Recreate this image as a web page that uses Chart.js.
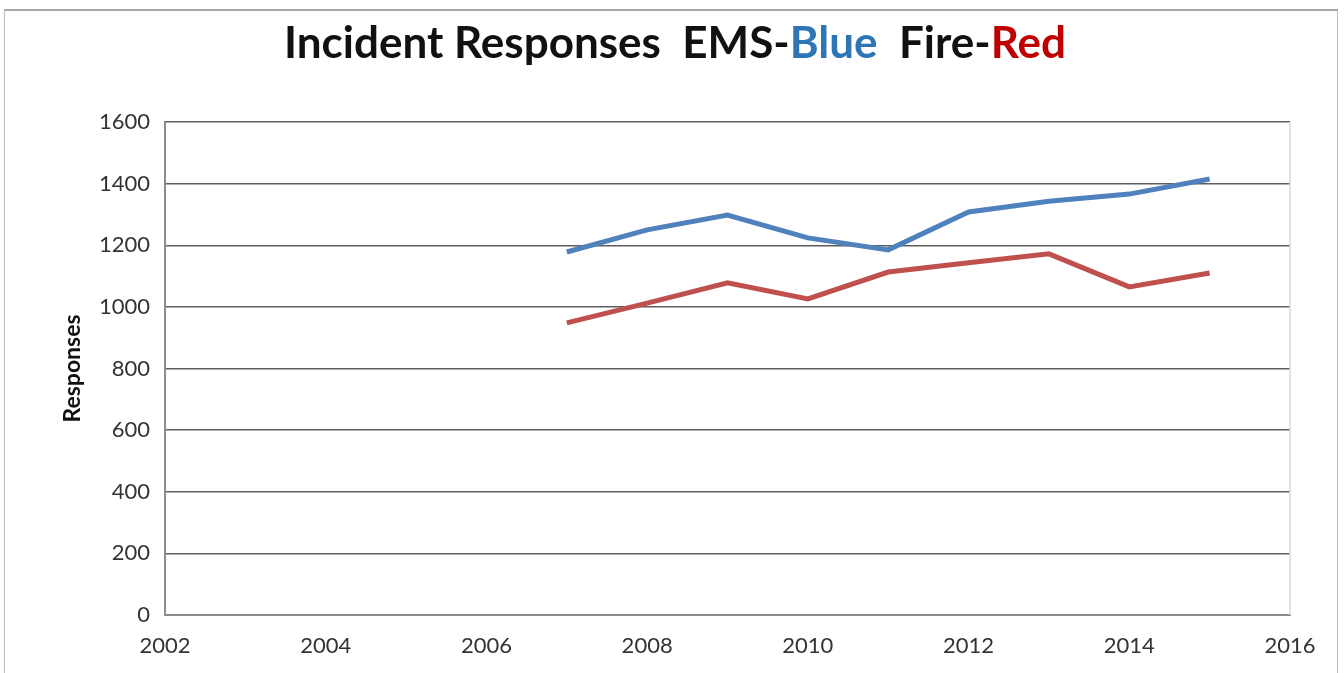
<!DOCTYPE html>
<html lang="en">
<head>
    <meta charset="UTF-8">
    <title>Incident Responses</title>
    <script src="https://cdn.jsdelivr.net/npm/chart.js"></script>
    <style>
        body {
            margin: 0;
            background: #fff;
            font-family: Lato, "Open Sans", sans-serif;
        }
        .frame {
            position: absolute;
            left: 4px;
            top: 9px;
            width: 1332px;
            height: 670px;
            border: 1px solid #bdbdbd;
            border-top: 2px solid #a6a6a6;
        }
        .title {
            position: absolute;
            left: 0;
            top: 15px;
            width: 1350px;
            text-align: center;
            font-size: 44px;
            line-height: normal;
            font-weight: bold;
            color: #111;
            white-space: pre;
        }
        .blue { color: #2e75b6; }
        .red { color: #c00000; }
        canvas {
            position: absolute;
            left: 0;
            top: 0;
        }
    </style>
</head>
<body>
    <div class="frame"></div>
    <canvas id="chart" width="1344" height="673"></canvas>
    <div class="title">Incident Responses  EMS-<span class="blue">Blue</span>  Fire-<span class="red">Red</span></div>

    <script>
        // values
        const years = [2007, 2008, 2009, 2010, 2011, 2012, 2013, 2014, 2015];
        const ems = [1178, 1250, 1298, 1224, 1185, 1308, 1343, 1366, 1415];
        const fire = [948, 1012, 1078, 1026, 1113, 1143, 1172, 1065, 1110];

        const toPoints = vals => years.map((y, i) => ({ x: y, y: vals[i] }));

        // light border on the right side of the plot area
        const rightEdge = {
            id: 'rightEdge',
            afterDraw(chart) {
                const { ctx, chartArea } = chart;
                ctx.save();
                ctx.strokeStyle = '#d9d9d9';
                ctx.lineWidth = 1.5;
                ctx.beginPath();
                ctx.moveTo(chartArea.right, chartArea.top);
                ctx.lineTo(chartArea.right, chartArea.bottom);
                ctx.stroke();
                ctx.restore();
            }
        };

        const tickFont = { family: 'Lato', size: 22 };

        new Chart(document.getElementById('chart'), {
            type: 'line',
            data: {
                datasets: [
                    {
                        label: 'EMS',
                        data: toPoints(ems),
                        borderColor: '#4f81bd',
                        borderWidth: 5,
                        pointRadius: 0,
                        fill: false
                    },
                    {
                        label: 'Fire',
                        data: toPoints(fire),
                        borderColor: '#c0504d',
                        borderWidth: 5,
                        pointRadius: 0,
                        fill: false
                    }
                ]
            },
            options: {
                responsive: false,
                animation: false,
                layout: { padding: { top: 122, left: 55, right: 54, bottom: 18 } },
                plugins: {
                    legend: { display: false },
                    tooltip: { enabled: false }
                },
                scales: {
                    x: {
                        type: 'linear',
                        min: 2002,
                        max: 2016,
                        ticks: {
                            stepSize: 2,
                            color: '#333',
                            font: tickFont,
                            padding: 18,
                            maxRotation: 0,
                            callback: v => String(v)
                        },
                        grid: { display: false, drawTicks: false },
                        border: { color: '#8c8c8c', width: 2 },
                        afterFit: s => { s.height = 40; }
                    },
                    y: {
                        min: 0,
                        max: 1600,
                        ticks: {
                            stepSize: 200,
                            color: '#333',
                            font: tickFont,
                            padding: 15,
                            callback: v => String(v)
                        },
                        grid: { color: '#5e5e5e', lineWidth: 1.5, drawTicks: false },
                        border: { color: '#8c8c8c', width: 2 },
                        title: {
                            display: true,
                            text: 'Responses',
                            color: '#111',
                            font: { family: 'Lato', size: 23, weight: 'bold' }
                        },
                        afterFit: s => { s.width = 110; }
                    }
                }
            },
            plugins: [rightEdge]
        });
    </script>
</body>
</html>
